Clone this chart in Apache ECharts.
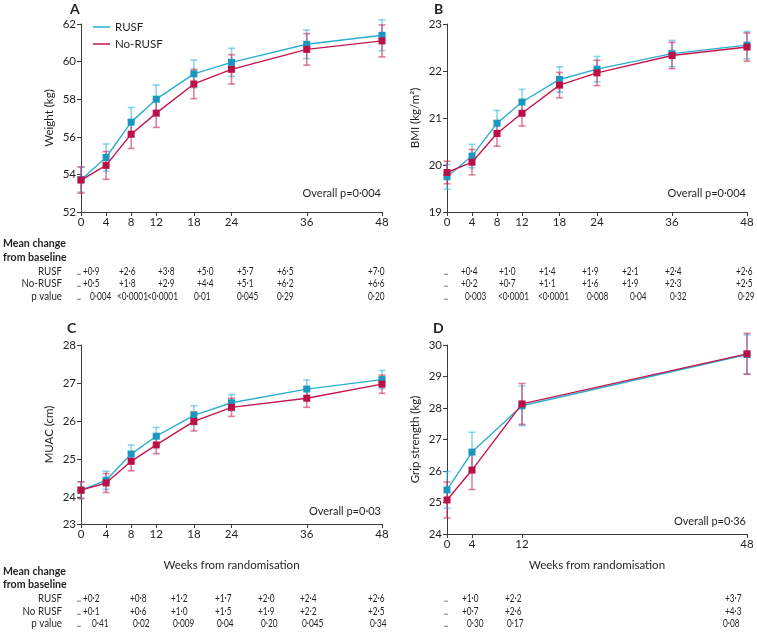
<!DOCTYPE html>
<html><head><meta charset="utf-8">
<script src="https://cdn.jsdelivr.net/npm/echarts@6/dist/echarts.min.js"></script>
<style>html,body{margin:0;padding:0;background:#fff}#c{width:757px;height:632px}</style>
</head><body><div id="c"></div>
<script>
// ---------- data ----------
const weeksMain = [0, 4, 8, 12, 18, 24, 36, 48];
const weeksGrip = [0, 4, 12, 48];

const weightRUSF = [53.72, 54.9, 56.78, 58.0, 59.35, 59.96, 60.92, 61.4];
const weightRUSFErr = [0.66, 0.72, 0.78, 0.76, 0.74, 0.75, 0.76, 0.82];
const weightNo = [53.7, 54.48, 56.14, 57.26, 58.81, 59.59, 60.65, 61.1];
const weightNoErr = [0.7, 0.74, 0.76, 0.76, 0.78, 0.78, 0.84, 0.85];

const bmiRUSF = [19.75, 20.19, 20.89, 21.34, 21.82, 22.04, 22.37, 22.55];
const bmiRUSFErr = [0.26, 0.25, 0.27, 0.27, 0.27, 0.27, 0.28, 0.29];
const bmiNo = [19.84, 20.06, 20.67, 21.1, 21.7, 21.96, 22.33, 22.51];
const bmiNoErr = [0.24, 0.27, 0.27, 0.27, 0.27, 0.27, 0.28, 0.3];

const muacRUSF = [24.18, 24.44, 25.13, 25.6, 26.15, 26.48, 26.84, 27.09];
const muacRUSFErr = [0.22, 0.24, 0.24, 0.23, 0.25, 0.21, 0.24, 0.24];
const muacNo = [24.18, 24.37, 24.94, 25.37, 25.99, 26.36, 26.6, 26.97];
const muacNoErr = [0.22, 0.25, 0.25, 0.23, 0.25, 0.24, 0.24, 0.24];

const gripRUSF = [25.4, 26.6, 28.07, 29.7];
const gripRUSFErr = [0.58, 0.63, 0.63, 0.62];
const gripNo = [25.08, 26.03, 28.13, 29.72];
const gripNoErr = [0.57, 0.62, 0.65, 0.65];

const overallP = ['Overall p=0·004', 'Overall p=0·004', 'Overall p=0·03', 'Overall p=0·36'];
const panelLetters = ['A', 'B', 'C', 'D'];
const yNames = ['Weight (kg)', 'BMI (kg/m²)', 'MUAC (cm)', 'Grip strength (kg)'];
const xName = 'Weeks from randomisation';

const rowHeadersTop = ['RUSF', 'No-RUSF', 'p value'];
const rowHeadersBottom = ['RUSF', 'No RUSF', 'p value'];

const tabA_rusf = ['..', '+0·9', '+2·6', '+3·8', '+5·0', '+5·7', '+6·5', '+7·0'];
const tabA_no   = ['..', '+0·5', '+1·8', '+2·9', '+4·4', '+5·1', '+6·2', '+6·6'];
const tabA_p    = ['..', '0·004', '<0·0001', '<0·0001', '0·01', '0·045', '0·29', '0·20'];

const tabB_rusf = ['..', '+0·4', '+1·0', '+1·4', '+1·9', '+2·1', '+2·4', '+2·6'];
const tabB_no   = ['..', '+0·2', '+0·7', '+1·1', '+1·6', '+1·9', '+2·3', '+2·5'];
const tabB_p    = ['..', '0·003', '<0·0001', '<0·0001', '0·008', '0·04', '0·32', '0·29'];

const tabC_rusf = ['..', '+0·2', '+0·8', '+1·2', '+1·7', '+2·0', '+2·4', '+2·6'];
const tabC_no   = ['..', '+0·1', '+0·6', '+1·0', '+1·5', '+1·9', '+2·2', '+2·5'];
const tabC_p    = ['..', '0·41', '0·02', '0·009', '0·04', '0·20', '0·045', '0·34'];

const tabD_rusf = ['..', '+1·0', '+2·2', '+3·7'];
const tabD_no   = ['..', '+0·7', '+2·6', '+4·3'];
const tabD_p    = ['..', '0·30', '0·17', '0·08'];

// ---------- styling / layout ----------
const FONT = 'Lato, "Open Sans", sans-serif';
const TXT = '#231f20';
const AX = '#3a3a3a';
const cRUSF = '#2aaed0', mRUSF = '#1b98c0', eRUSF = 'rgba(60,185,220,0.6)';
const cNo = '#c4164d', mNo = '#bb0f45', eNo = 'rgba(205,45,95,0.6)';

const grids = [
  {left: 81, top: 24, width: 301, height: 188},
  {left: 447, top: 24, width: 300, height: 188},
  {left: 81, top: 345, width: 301, height: 179},
  {left: 447, top: 345, width: 300, height: 189}
];
const yCfg = [
  {min: 52, max: 62, vals: [52, 54, 56, 58, 60, 62]},
  {min: 19, max: 23, vals: [19, 20, 21, 22, 23]},
  {min: 23.29, max: 28, vals: [23.29, 24, 25, 26, 27, 28]},
  {min: 24, max: 30, vals: [24, 25, 26, 27, 28, 29, 30]}
];

function pairs(xs, ys) { return xs.map((x, i) => [x, ys[i]]); }
function errs(xs, ys, es) { return xs.map((x, i) => [x, ys[i] - es[i], ys[i] + es[i]]); }

function errRender(color) {
  return function (params, api) {
    const x = api.value(0);
    const p1 = api.coord([x, api.value(1)]);
    const p2 = api.coord([x, api.value(2)]);
    const w = 3.5;
    const st = {stroke: color, lineWidth: 1.6};
    return {type: 'group', children: [
      {type: 'line', shape: {x1: p1[0], y1: p1[1], x2: p2[0], y2: p2[1]}, style: st},
      {type: 'line', shape: {x1: p1[0] - w, y1: p1[1], x2: p1[0] + w, y2: p1[1]}, style: st},
      {type: 'line', shape: {x1: p2[0] - w, y1: p2[1], x2: p2[0] + w, y2: p2[1]}, style: st}
    ]};
  };
}

const xAxes = [], yAxes = [], series = [];
const datasets = [
  [weeksMain, weightRUSF, weightRUSFErr, weightNo, weightNoErr],
  [weeksMain, bmiRUSF, bmiRUSFErr, bmiNo, bmiNoErr],
  [weeksMain, muacRUSF, muacRUSFErr, muacNo, muacNoErr],
  [weeksGrip, gripRUSF, gripRUSFErr, gripNo, gripNoErr]
];

datasets.forEach((d, i) => {
  const [wk, r, re, n, ne] = d;
  xAxes.push({
    gridIndex: i, type: 'value', min: 0, max: 48,
    name: i >= 2 ? xName : '', nameLocation: 'middle', nameGap: i === 2 ? 35 : 25,
    nameTextStyle: {fontFamily: FONT, fontSize: 11.5, color: TXT},
    axisLine: {show: true, lineStyle: {color: AX, width: 1}},
    axisTick: {show: true, length: 4, lineStyle: {color: AX}, customValues: wk},
    axisLabel: {customValues: wk, margin: 4, fontFamily: FONT, fontSize: 11.5, color: TXT},
    splitLine: {show: false}
  });
  const yc = yCfg[i];
  yAxes.push({
    gridIndex: i, type: 'value', min: yc.min, max: yc.max,
    name: yNames[i], nameLocation: 'middle', nameRotate: 90, nameGap: 26,
    nameTextStyle: {fontFamily: FONT, fontSize: 11.5, color: TXT},
    axisLine: {show: true, lineStyle: {color: AX, width: 1}},
    axisTick: {show: true, length: 4, lineStyle: {color: AX}, customValues: yc.vals},
    axisLabel: {customValues: yc.vals, margin: 5, fontFamily: FONT, fontSize: 11.5, color: TXT,
      formatter: v => String(Math.round(v))},
    splitLine: {show: false}
  });
  series.push({
    type: 'custom', name: 'RUSF-err', xAxisIndex: i, yAxisIndex: i,
    renderItem: errRender(eRUSF), data: errs(wk, r, re), z: 1, silent: true
  });
  series.push({
    type: 'custom', name: 'No-RUSF-err', xAxisIndex: i, yAxisIndex: i,
    renderItem: errRender(eNo), data: errs(wk, n, ne), z: 1, silent: true
  });
  series.push({
    type: 'line', name: 'RUSF', xAxisIndex: i, yAxisIndex: i, data: pairs(wk, r),
    symbol: 'rect', symbolSize: 7, lineStyle: {color: cRUSF, width: 1.4},
    itemStyle: {color: mRUSF}, z: 3, animation: false
  });
  series.push({
    type: 'line', name: 'No-RUSF', xAxisIndex: i, yAxisIndex: i, data: pairs(wk, n),
    symbol: 'rect', symbolSize: 7, lineStyle: {color: cNo, width: 1.4},
    itemStyle: {color: mNo}, z: 4, animation: false
  });
});

// ---------- graphic texts ----------
const graphic = [];
function txt(x, y, s, opts) {
  opts = opts || {};
  graphic.push({type: 'text', x: x, y: y, scaleX: opts.sx || 1, style: {
    text: s, fill: TXT, font: (opts.bold ? 'bold ' : '') + (opts.size || 10) + 'px ' + FONT,
    textAlign: opts.align || 'left', textVerticalAlign: 'middle'
  }});
}
const letterPos = [[70, 9], [434, 9], [67, 328], [433, 328]];
panelLetters.forEach((L, i) => txt(letterPos[i][0], letterPos[i][1], L, {bold: true, size: 14}));
const pPos = [[381, 193], [746, 193], [381, 511], [746, 521]];
overallP.forEach((s, i) => txt(pPos[i][0], pPos[i][1], s, {align: 'right', size: 11}));

const rowOff = [27.5, 40, 52.5];
function table(top, headers, rows, colX, pColX, left) {
  if (left) {
    txt(3, top, 'Mean change', {bold: true, size: 11.5, sx: 0.92});
    txt(3, top + 13.5, 'from baseline', {bold: true, size: 11.5, sx: 0.92});
    headers.forEach((h, k) => txt(62, top + rowOff[k], h, {align: 'right', size: 11.5, sx: 0.85}));
  }
  rows.forEach((row, k) => {
    const xs = k === 2 ? pColX : colX;
    row.forEach((s, j) => txt(xs[j], top + rowOff[k], s, {size: 11.5, sx: 0.72}));
  });
}
table(243.5, rowHeadersTop, [tabA_rusf, tabA_no, tabA_p],
  [77, 83, 119, 158, 197, 237, 277, 368], [77, 90, 117, 147, 194, 237, 277, 368], true);
table(243.5, rowHeadersTop, [tabB_rusf, tabB_no, tabB_p],
  [444, 461, 499, 539, 582, 622, 665, 736], [444, 465, 498, 538, 587, 630, 670, 738], false);
table(571, rowHeadersBottom, [tabC_rusf, tabC_no, tabC_p],
  [77, 83, 130, 171, 215, 258, 300, 368], [77, 92, 133, 173, 217, 261, 302, 370], true);
table(571, rowHeadersBottom, [tabD_rusf, tabD_no, tabD_p],
  [444, 462, 505, 725], [444, 467, 507, 723], false);

const chart = echarts.init(document.getElementById('c'), null, {renderer: 'canvas'});
chart.setOption({
  animation: false,
  backgroundColor: '#fff',
  grid: grids,
  xAxis: xAxes,
  yAxis: yAxes,
  legend: {
    data: [{name: 'RUSF', itemStyle: {color: cRUSF}}, {name: 'No-RUSF', itemStyle: {color: cNo}}],
    orient: 'vertical', left: 88, top: 16, itemWidth: 17, itemHeight: 1.5, icon: 'rect', itemGap: 5,
    textStyle: {fontFamily: FONT, fontSize: 11.5, color: TXT}
  },
  series: series,
  graphic: graphic
});
</script></body></html>
